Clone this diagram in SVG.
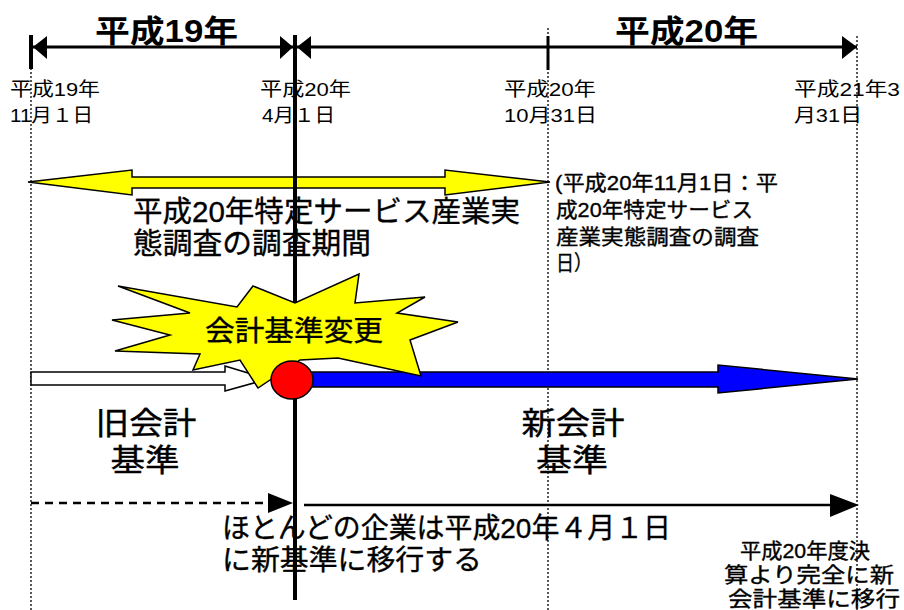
<svg xmlns="http://www.w3.org/2000/svg" width="904" height="610" viewBox="0 0 904 610">
<style>
text{font-family:"Liberation Sans","Noto Sans CJK JP",sans-serif;fill:#000}
.title{font-size:31px;font-weight:bold}
.lbl{font-size:19px}
.big{font-size:29px}
.note{font-size:21px}
.heavy{stroke:#000;stroke-width:0.35}
.dot{stroke:#000;stroke-width:1.3;stroke-dasharray:2 2;fill:none}
</style>
<rect width="904" height="610" fill="#fff"/>
<g id="guides">
<line class="dot" x1="31" y1="68" x2="31" y2="610"/>
<line class="dot" x1="548" y1="28" x2="548" y2="610"/>
<line class="dot" x1="857" y1="36" x2="857" y2="610"/>
</g>
<g id="titles">
<text class="title" x="95" y="42" textLength="143" lengthAdjust="spacingAndGlyphs">平成19年</text>
<text class="title" x="615" y="42" textLength="143" lengthAdjust="spacingAndGlyphs">平成20年</text>
</g>
<g id="dates">
<text class="lbl" x="10" y="96" textLength="90" lengthAdjust="spacingAndGlyphs">平成19年</text>
<text class="lbl" x="10" y="122" textLength="83" lengthAdjust="spacingAndGlyphs">11月１日</text>
<text class="lbl" x="260" y="96" textLength="91" lengthAdjust="spacingAndGlyphs">平成20年</text>
<text class="lbl" x="262" y="122" textLength="73" lengthAdjust="spacingAndGlyphs">4月１日</text>
<text class="lbl" x="504" y="96" textLength="92" lengthAdjust="spacingAndGlyphs">平成20年</text>
<text class="lbl" x="504" y="122" textLength="93" lengthAdjust="spacingAndGlyphs">10月31日</text>
<text class="lbl" x="794" y="96" textLength="106" lengthAdjust="spacingAndGlyphs">平成21年3</text>
<text class="lbl" x="794" y="122" textLength="68" lengthAdjust="spacingAndGlyphs">月31日</text>
</g>
<g id="survey">
<polygon points="28,182 132,170 132,177 445,177 445,170 550,182 445,195 445,188 132,188 132,195" fill="#ffff00" stroke="#000" stroke-width="1.5"/>
<text class="big heavy" x="133" y="222" textLength="387" lengthAdjust="spacingAndGlyphs">平成20年特定サービス産業実</text>
<text class="big heavy" x="133" y="254" textLength="238" lengthAdjust="spacingAndGlyphs">態調査の調査期間</text>
</g>
<g id="note">
<text class="note heavy" x="555" y="190" textLength="223" lengthAdjust="spacingAndGlyphs">(平成20年11月1日：平</text>
<text class="note heavy" x="556" y="217" textLength="197" lengthAdjust="spacingAndGlyphs">成20年特定サービス</text>
<text class="note heavy" x="556" y="244" textLength="203" lengthAdjust="spacingAndGlyphs">産業実態調査の調査</text>
<text class="note heavy" x="556" y="270" textLength="36" lengthAdjust="spacingAndGlyphs">日）</text>
</g>
<g id="old-arrow">
<polygon points="31,372 225,372 225,366 268,379 225,391 225,385 31,385" fill="#fff" stroke="#000" stroke-width="1.5"/>
</g>
<g id="new-arrow">
<polygon points="300,372 718,372 718,365 858,379 718,393 718,387 300,387" fill="#0000ff" stroke="#000" stroke-width="1.5"/>
</g>
<g id="connectors">
<line x1="295" y1="35" x2="295" y2="600" stroke="#000" stroke-width="4"/>
<line x1="31" y1="35" x2="31" y2="69" stroke="#000" stroke-width="4"/>
<line x1="548" y1="36" x2="548" y2="70" stroke="#000" stroke-width="3"/>
<line x1="33" y1="47" x2="293" y2="47" stroke="#000" stroke-width="3"/>
<line x1="297" y1="47" x2="857" y2="47" stroke="#000" stroke-width="3"/>
<polygon points="33,47 47,36 47,59" fill="#000"/>
<polygon points="293,47 280,36 280,59" fill="#000"/>
<polygon points="297,47 311,36 311,59" fill="#000"/>
<polygon points="857,47 842,36 842,59" fill="#000"/>
<line x1="31" y1="503" x2="268" y2="503" stroke="#000" stroke-width="2.5" stroke-dasharray="8 6"/>
<polygon points="293,503 268,493 268,513" fill="#000"/>
<line x1="304" y1="505" x2="832" y2="505" stroke="#000" stroke-width="2.5"/>
<polygon points="859,505 830,494 830,517" fill="#000"/>
</g>
<g id="change">
<polygon points="118,286 237,307 253,286 295,303 359,274 355,303 425,297 397,313 458,322 410,340 421,376 338,358 300,360 258,388 240,360 193,370 200,354 115,351 170,335 112,320 190,313" fill="#ffff00" stroke="#000" stroke-width="1.5"/>
<text class="heavy" x="294" y="341" font-size="28" text-anchor="middle" textLength="178" lengthAdjust="spacingAndGlyphs">会計基準変更</text>
</g>
<g id="point">
<ellipse cx="292" cy="380" rx="21" ry="19" fill="#ff0000" stroke="#000" stroke-width="1.5"/>
</g>
<g id="labels">
<text class="heavy" x="146" y="434" font-size="31" text-anchor="middle" textLength="101" lengthAdjust="spacingAndGlyphs">旧会計</text>
<text class="heavy" x="145" y="471" font-size="31" text-anchor="middle" textLength="69" lengthAdjust="spacingAndGlyphs">基準</text>
<text class="heavy" x="573" y="434" font-size="31" text-anchor="middle" textLength="103" lengthAdjust="spacingAndGlyphs">新会計</text>
<text class="heavy" x="572" y="471" font-size="31" text-anchor="middle" textLength="72" lengthAdjust="spacingAndGlyphs">基準</text>
</g>
<g id="bottom-text">
<text class="heavy" x="222" y="538" font-size="28" textLength="449" lengthAdjust="spacingAndGlyphs">ほとんどの企業は平成20年４月１日</text>
<text class="heavy" x="222" y="570" font-size="28" textLength="260" lengthAdjust="spacingAndGlyphs">に新基準に移行する</text>
<text class="heavy" x="805" y="558" font-size="21" text-anchor="middle" textLength="130" lengthAdjust="spacingAndGlyphs">平成20年度決</text>
<text class="heavy" x="809" y="582" font-size="21" text-anchor="middle" textLength="170" lengthAdjust="spacingAndGlyphs">算より完全に新</text>
<text class="heavy" x="814" y="606" font-size="21" text-anchor="middle" textLength="172" lengthAdjust="spacingAndGlyphs">会計基準に移行</text>
</g>
</svg>
